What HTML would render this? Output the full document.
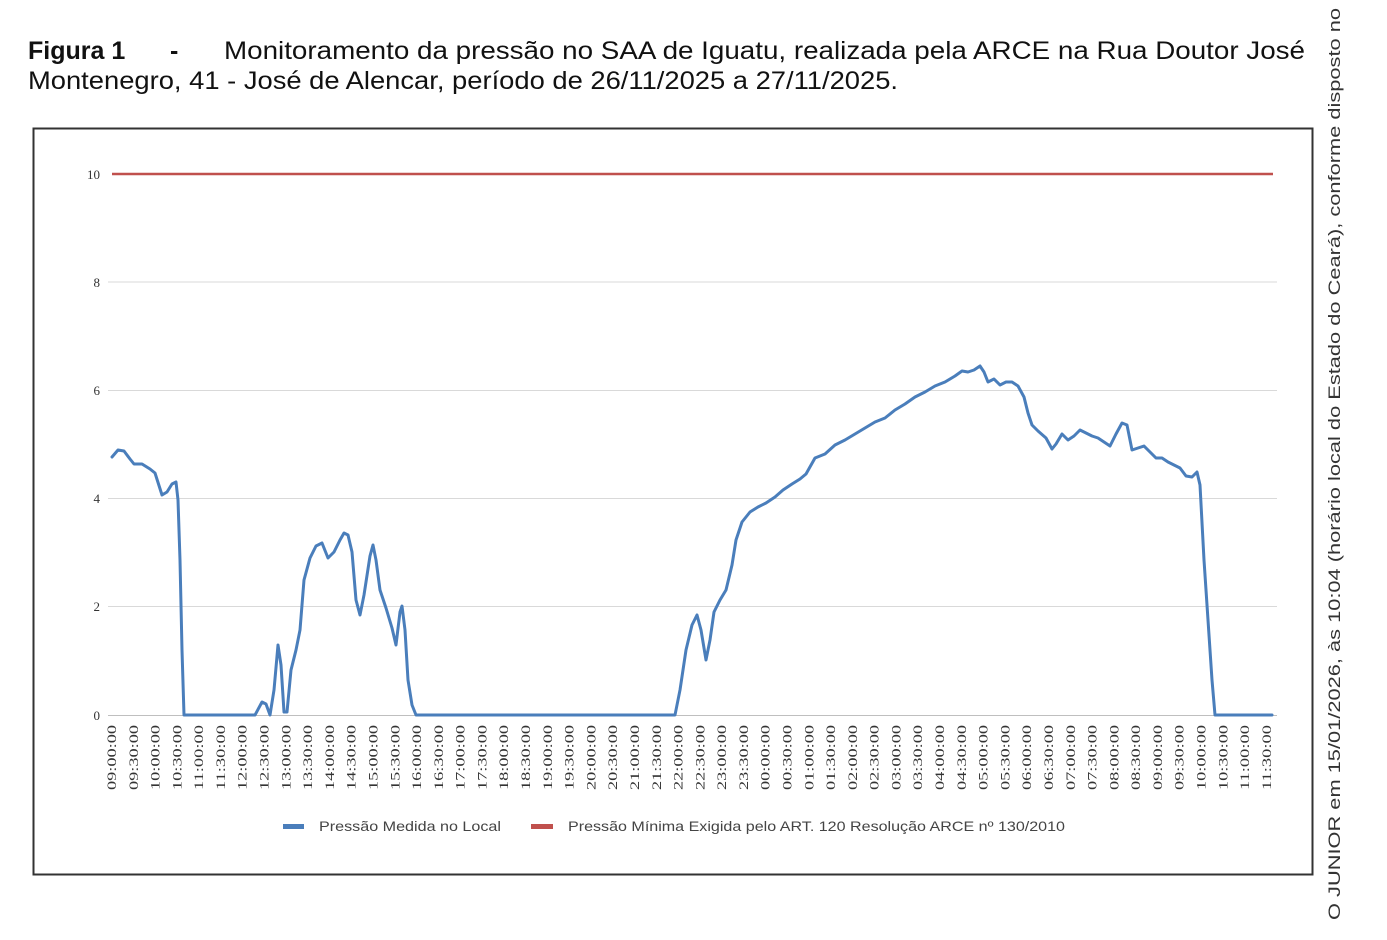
<!DOCTYPE html>
<html><head><meta charset="utf-8"><style>
html,body{margin:0;padding:0;background:#fff;}
svg{display:block;}
</style></head><body>
<svg width="1387" height="940" viewBox="0 0 1387 940" xmlns="http://www.w3.org/2000/svg" font-family="Liberation Sans, Arial, sans-serif">
<text x="28" y="59" font-size="25" font-weight="bold" fill="#111">Figura 1</text>
<text x="170" y="59" font-size="25" font-weight="bold" fill="#111">-</text>
<text x="224" y="59" font-size="25" fill="#111" textLength="1081" lengthAdjust="spacingAndGlyphs">Monitoramento da pressão no SAA de Iguatu, realizada pela ARCE na Rua Doutor José</text>
<text x="28" y="89" font-size="25" fill="#111" textLength="870" lengthAdjust="spacingAndGlyphs">Montenegro, 41 - José de Alencar, período de 26/11/2025 a 27/11/2025.</text>
<text transform="translate(1340,920) rotate(-90)" font-size="17" fill="#333" textLength="912" lengthAdjust="spacingAndGlyphs">O JUNIOR em 15/01/2026, às 10:04 (horário local do Estado do Ceará), conforme disposto no</text>
<rect x="33.5" y="128.5" width="1279" height="746" fill="#fff" stroke="#333" stroke-width="2"/>
<g stroke="#d9d9d9" stroke-width="1">
<line x1="108" y1="282" x2="1277" y2="282"/>
<line x1="108" y1="390.5" x2="1277" y2="390.5"/>
<line x1="108" y1="498.5" x2="1277" y2="498.5"/>
<line x1="108" y1="606.5" x2="1277" y2="606.5"/>
</g>
<line x1="108" y1="715.5" x2="1277" y2="715.5" stroke="#bfbfbf" stroke-width="1"/>
<g font-family="Liberation Serif, serif" font-size="13" fill="#333" text-anchor="end">
<text x="100" y="179">10</text><text x="100" y="287">8</text><text x="100" y="395">6</text><text x="100" y="503">4</text><text x="100" y="611">2</text><text x="100" y="720">0</text>
</g>
<line x1="112" y1="174" x2="1273" y2="174" stroke="#c0504d" stroke-width="2.5"/>
<polyline fill="none" stroke="#4a7ebb" stroke-width="3" stroke-linejoin="round" stroke-linecap="round" points="112,457 118,450 124,451 130,459 134,464 142,464 150,469 155,473 162,495 167,492 172,484 176,482 178,500 180,560 182,650 184,715 190,715 255,715 262,702 266,704 270,715 274,690 278,645 281,665 284,712 287,712 291,670 296,650 300,630 304,580 310,558 316,546 322,543 328,558 334,552 340,540 344,533 348,535 352,552 356,600 360,615 364,595 370,556 373,545 376,560 380,590 386,608 392,628 396,645 400,612 402,606 405,630 408,680 412,705 416,715 675,715 680,690 686,650 692,625 697,615 701,630 706,660 710,640 714,612 720,600 726,590 732,565 736,540 742,522 750,512 758,507 766,503 775,497 783,490 792,484 800,479 806,474 815,458 825,454 835,445 845,440 855,434 865,428 875,422 885,418 895,410 905,404 915,397 925,392 935,386 945,382 955,376 962,371 968,372 974,370 980,366 984,372 988,382 994,379 1000,385 1006,382 1012,382 1018,386 1024,397 1028,413 1032,425 1038,431 1046,438 1052,449 1056,444 1062,434 1068,440 1074,436 1080,430 1086,433 1092,436 1098,438 1104,442 1110,446 1116,434 1122,423 1127,425 1132,450 1138,448 1144,446 1150,452 1156,458 1162,458 1168,462 1174,465 1180,468 1186,476 1192,477 1197,472 1200,485 1204,560 1208,620 1212,680 1215,715 1272,715"/>
<g font-family="Liberation Serif, serif" font-size="12.5" fill="#333" text-anchor="end">
<text transform="translate(116,725) rotate(-90)" textLength="65" lengthAdjust="spacingAndGlyphs">09:00:00</text>
<text transform="translate(137.8,725) rotate(-90)" textLength="65" lengthAdjust="spacingAndGlyphs">09:30:00</text>
<text transform="translate(159.6,725) rotate(-90)" textLength="65" lengthAdjust="spacingAndGlyphs">10:00:00</text>
<text transform="translate(181.4,725) rotate(-90)" textLength="65" lengthAdjust="spacingAndGlyphs">10:30:00</text>
<text transform="translate(203.2,725) rotate(-90)" textLength="65" lengthAdjust="spacingAndGlyphs">11:00:00</text>
<text transform="translate(225,725) rotate(-90)" textLength="65" lengthAdjust="spacingAndGlyphs">11:30:00</text>
<text transform="translate(246.7,725) rotate(-90)" textLength="65" lengthAdjust="spacingAndGlyphs">12:00:00</text>
<text transform="translate(268.5,725) rotate(-90)" textLength="65" lengthAdjust="spacingAndGlyphs">12:30:00</text>
<text transform="translate(290.3,725) rotate(-90)" textLength="65" lengthAdjust="spacingAndGlyphs">13:00:00</text>
<text transform="translate(312.1,725) rotate(-90)" textLength="65" lengthAdjust="spacingAndGlyphs">13:30:00</text>
<text transform="translate(333.9,725) rotate(-90)" textLength="65" lengthAdjust="spacingAndGlyphs">14:00:00</text>
<text transform="translate(355.7,725) rotate(-90)" textLength="65" lengthAdjust="spacingAndGlyphs">14:30:00</text>
<text transform="translate(377.5,725) rotate(-90)" textLength="65" lengthAdjust="spacingAndGlyphs">15:00:00</text>
<text transform="translate(399.3,725) rotate(-90)" textLength="65" lengthAdjust="spacingAndGlyphs">15:30:00</text>
<text transform="translate(421.1,725) rotate(-90)" textLength="65" lengthAdjust="spacingAndGlyphs">16:00:00</text>
<text transform="translate(442.9,725) rotate(-90)" textLength="65" lengthAdjust="spacingAndGlyphs">16:30:00</text>
<text transform="translate(464.6,725) rotate(-90)" textLength="65" lengthAdjust="spacingAndGlyphs">17:00:00</text>
<text transform="translate(486.4,725) rotate(-90)" textLength="65" lengthAdjust="spacingAndGlyphs">17:30:00</text>
<text transform="translate(508.2,725) rotate(-90)" textLength="65" lengthAdjust="spacingAndGlyphs">18:00:00</text>
<text transform="translate(530,725) rotate(-90)" textLength="65" lengthAdjust="spacingAndGlyphs">18:30:00</text>
<text transform="translate(551.8,725) rotate(-90)" textLength="65" lengthAdjust="spacingAndGlyphs">19:00:00</text>
<text transform="translate(573.6,725) rotate(-90)" textLength="65" lengthAdjust="spacingAndGlyphs">19:30:00</text>
<text transform="translate(595.4,725) rotate(-90)" textLength="65" lengthAdjust="spacingAndGlyphs">20:00:00</text>
<text transform="translate(617.2,725) rotate(-90)" textLength="65" lengthAdjust="spacingAndGlyphs">20:30:00</text>
<text transform="translate(639,725) rotate(-90)" textLength="65" lengthAdjust="spacingAndGlyphs">21:00:00</text>
<text transform="translate(660.8,725) rotate(-90)" textLength="65" lengthAdjust="spacingAndGlyphs">21:30:00</text>
<text transform="translate(682.5,725) rotate(-90)" textLength="65" lengthAdjust="spacingAndGlyphs">22:00:00</text>
<text transform="translate(704.3,725) rotate(-90)" textLength="65" lengthAdjust="spacingAndGlyphs">22:30:00</text>
<text transform="translate(726.1,725) rotate(-90)" textLength="65" lengthAdjust="spacingAndGlyphs">23:00:00</text>
<text transform="translate(747.9,725) rotate(-90)" textLength="65" lengthAdjust="spacingAndGlyphs">23:30:00</text>
<text transform="translate(769.7,725) rotate(-90)" textLength="65" lengthAdjust="spacingAndGlyphs">00:00:00</text>
<text transform="translate(791.5,725) rotate(-90)" textLength="65" lengthAdjust="spacingAndGlyphs">00:30:00</text>
<text transform="translate(813.3,725) rotate(-90)" textLength="65" lengthAdjust="spacingAndGlyphs">01:00:00</text>
<text transform="translate(835.1,725) rotate(-90)" textLength="65" lengthAdjust="spacingAndGlyphs">01:30:00</text>
<text transform="translate(856.9,725) rotate(-90)" textLength="65" lengthAdjust="spacingAndGlyphs">02:00:00</text>
<text transform="translate(878.7,725) rotate(-90)" textLength="65" lengthAdjust="spacingAndGlyphs">02:30:00</text>
<text transform="translate(900.4,725) rotate(-90)" textLength="65" lengthAdjust="spacingAndGlyphs">03:00:00</text>
<text transform="translate(922.2,725) rotate(-90)" textLength="65" lengthAdjust="spacingAndGlyphs">03:30:00</text>
<text transform="translate(944,725) rotate(-90)" textLength="65" lengthAdjust="spacingAndGlyphs">04:00:00</text>
<text transform="translate(965.8,725) rotate(-90)" textLength="65" lengthAdjust="spacingAndGlyphs">04:30:00</text>
<text transform="translate(987.6,725) rotate(-90)" textLength="65" lengthAdjust="spacingAndGlyphs">05:00:00</text>
<text transform="translate(1009.4,725) rotate(-90)" textLength="65" lengthAdjust="spacingAndGlyphs">05:30:00</text>
<text transform="translate(1031.2,725) rotate(-90)" textLength="65" lengthAdjust="spacingAndGlyphs">06:00:00</text>
<text transform="translate(1053,725) rotate(-90)" textLength="65" lengthAdjust="spacingAndGlyphs">06:30:00</text>
<text transform="translate(1074.8,725) rotate(-90)" textLength="65" lengthAdjust="spacingAndGlyphs">07:00:00</text>
<text transform="translate(1096.6,725) rotate(-90)" textLength="65" lengthAdjust="spacingAndGlyphs">07:30:00</text>
<text transform="translate(1118.3,725) rotate(-90)" textLength="65" lengthAdjust="spacingAndGlyphs">08:00:00</text>
<text transform="translate(1140.1,725) rotate(-90)" textLength="65" lengthAdjust="spacingAndGlyphs">08:30:00</text>
<text transform="translate(1161.9,725) rotate(-90)" textLength="65" lengthAdjust="spacingAndGlyphs">09:00:00</text>
<text transform="translate(1183.7,725) rotate(-90)" textLength="65" lengthAdjust="spacingAndGlyphs">09:30:00</text>
<text transform="translate(1205.5,725) rotate(-90)" textLength="65" lengthAdjust="spacingAndGlyphs">10:00:00</text>
<text transform="translate(1227.3,725) rotate(-90)" textLength="65" lengthAdjust="spacingAndGlyphs">10:30:00</text>
<text transform="translate(1249.1,725) rotate(-90)" textLength="65" lengthAdjust="spacingAndGlyphs">11:00:00</text>
<text transform="translate(1270.9,725) rotate(-90)" textLength="65" lengthAdjust="spacingAndGlyphs">11:30:00</text>
</g>
<rect x="283" y="824" width="21" height="5" fill="#4a7ebb"/>
<text x="319" y="831" font-size="14" fill="#444" textLength="182" lengthAdjust="spacingAndGlyphs">Pressão Medida no Local</text>
<rect x="531" y="824" width="22" height="5" fill="#c0504d"/>
<text x="568" y="831" font-size="14" fill="#444" textLength="497" lengthAdjust="spacingAndGlyphs">Pressão Mínima Exigida pelo ART. 120 Resolução ARCE nº 130/2010</text>
</svg>
</body></html>
